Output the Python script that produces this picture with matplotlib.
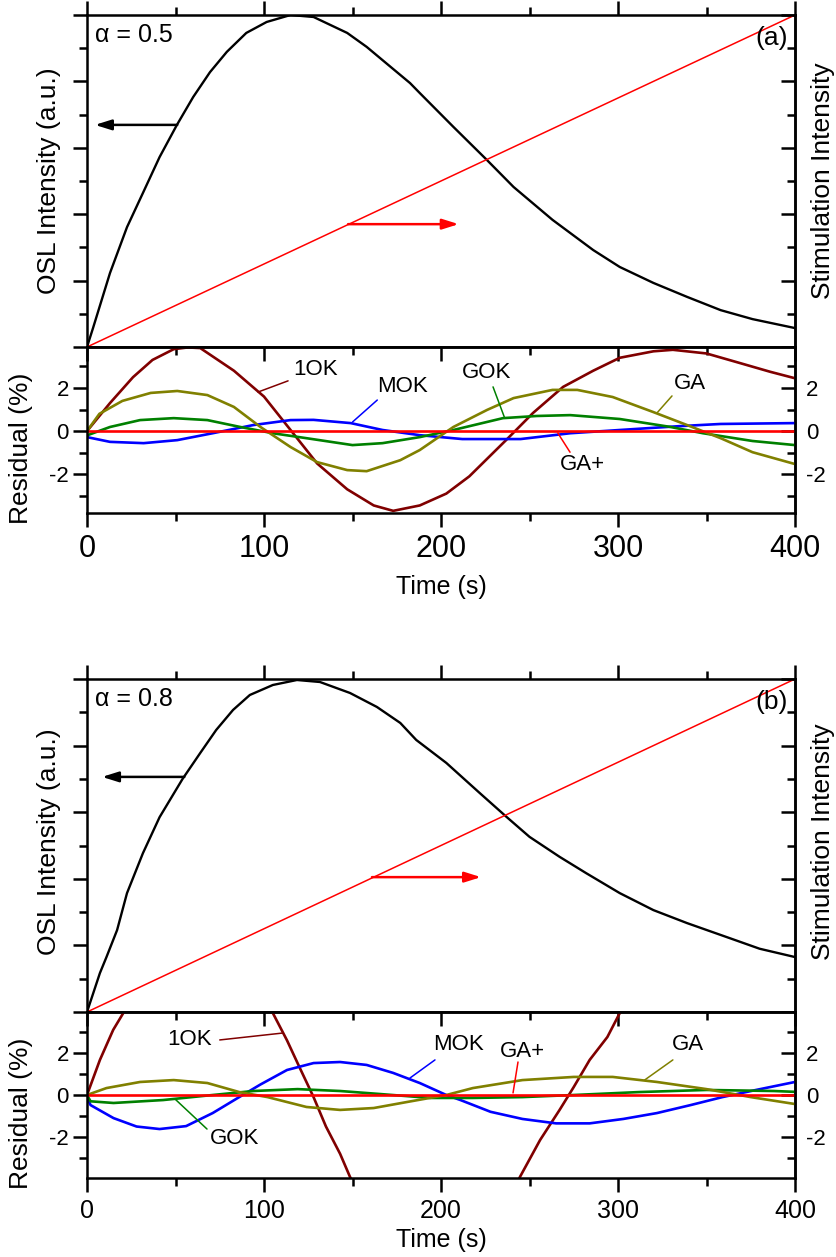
import numpy as np
import matplotlib
matplotlib.use("Agg")
import matplotlib.pyplot as plt
from matplotlib.ticker import MultipleLocator

plt.rcParams['font.family'] = ['Liberation Sans', 'DejaVu Sans']
plt.rcParams['axes.unicode_minus'] = False

# ---- panel (a), alpha = 0.5 ----
t_osl_a = [0, 3.4, 13, 22.6, 31.6, 41, 50.8, 60, 69.5, 79, 90, 101.5, 115, 128, 147, 158,
           169, 182.5, 188, 207, 226, 241, 263, 286, 301, 320, 339, 358, 376, 400]
osl_a = [0, 0.057, 0.223, 0.361, 0.464, 0.572, 0.669, 0.753, 0.828, 0.889, 0.946, 0.979, 1.0,
         0.994, 0.946, 0.904, 0.855, 0.795, 0.765, 0.663, 0.563, 0.482, 0.383, 0.292, 0.241,
         0.193, 0.151, 0.111, 0.084, 0.057]

t_1ok_a = [0, 13, 26, 37, 49, 57, 64, 83, 100, 115, 130, 147, 162, 173, 188, 203, 216, 237,
           252, 269, 286, 301, 320, 331, 350, 367, 386, 400]
r_1ok_a = [0, 1.3, 2.5, 3.3, 3.8, 3.88, 3.85, 2.8, 1.6, 0.05, -1.5, -2.7, -3.45, -3.7, -3.45,
           -2.9, -2.1, -0.4, 0.84, 2.05, 2.8, 3.4, 3.7, 3.77, 3.6, 3.2, 2.75, 2.45]
t_ga_a = [0, 7, 20, 36, 51, 68, 83, 98, 115, 130, 147, 158, 177, 188, 207, 226, 241, 263, 277,
          297, 320, 339, 358, 376, 400]
r_ga_a = [0, 0.8, 1.4, 1.77, 1.86, 1.67, 1.12, 0.19, -0.74, -1.44, -1.81, -1.86, -1.35, -0.88,
          0.19, 0.98, 1.53, 1.91, 1.91, 1.58, 0.88, 0.28, -0.33, -0.98, -1.53]
t_gok_a = [0, 13, 30, 49, 68, 86, 105, 124, 150, 167, 188, 207, 235, 254, 273, 301, 329, 348,
           376, 400]
r_gok_a = [-0.2, 0.19, 0.51, 0.6, 0.51, 0.2, -0.1, -0.33, -0.65, -0.56, -0.28, 0.05, 0.6, 0.7,
           0.74, 0.56, 0.2, -0.1, -0.46, -0.65]
t_mok_a = [0, 13, 32, 51, 71, 94, 115, 128, 149, 167, 188, 212, 245, 273, 301, 335, 358, 400]
r_mok_a = [-0.28, -0.5, -0.56, -0.42, -0.1, 0.28, 0.51, 0.52, 0.37, 0.05, -0.19, -0.37, -0.37,
           -0.1, 0.05, 0.23, 0.33, 0.37]
t_gap_a = [0, 400]
r_gap_a = [0, 0]

# ---- panel (b), alpha = 0.8 ----
t_osl_b = [0, 7.3, 11, 17, 22.6, 31.6, 41, 54, 64, 73, 82.5, 92, 105, 118.6, 131.6, 148.6,
           163.8, 177, 186, 203, 222, 237, 250, 267, 282, 301, 320, 339, 363, 380, 400]
osl_b = [0, 0.117, 0.165, 0.246, 0.357, 0.477, 0.585, 0.7, 0.778, 0.847, 0.907, 0.952, 0.982,
         0.997, 0.991, 0.958, 0.916, 0.868, 0.817, 0.748, 0.657, 0.586, 0.526, 0.466, 0.417,
         0.357, 0.306, 0.267, 0.222, 0.19, 0.165]

t_1ok_b = [0, 7.3, 14.8, 20.5, 40, 62, 85, 105, 113, 120, 128, 135, 143, 148.6, 170, 200, 230,
           244.6, 256, 267, 275, 284, 294, 301, 330, 360, 400]
r_1ok_b = [0, 1.67, 3.1, 3.9, 6.5, 7.8, 6.8, 3.9, 2.6, 1.33, -0.1, -1.5, -2.8, -3.9, -7.0, -8.5,
           -6.5, -3.9, -2.14, -0.71, 0.38, 1.67, 2.76, 3.9, 7.5, 9.0, 8.0]
t_ga_b = [0, 11, 30, 49, 68, 86, 102, 124, 143, 162, 181, 203, 218, 246, 275, 297, 322, 350,
          375, 400]
r_ga_b = [0, 0.33, 0.62, 0.71, 0.57, 0.14, -0.1, -0.57, -0.71, -0.62, -0.33, 0, 0.33, 0.71,
          0.86, 0.86, 0.62, 0.28, -0.1, -0.43]
t_gok_b = [0, 2, 15, 43, 71, 94, 119, 143, 165, 194, 218, 246, 275, 312, 350, 388, 400]
r_gok_b = [0, -0.3, -0.38, -0.24, 0, 0.19, 0.28, 0.19, 0.05, -0.14, -0.14, -0.1, 0, 0.14, 0.24,
           0.19, 0.15]
t_mok_b = [0, 2, 15, 28, 41, 56, 71, 85, 98, 113, 128, 143, 158, 173, 188, 203, 211, 228, 246,
           265, 284, 303, 322, 341, 359, 378, 400]
r_mok_b = [-0.1, -0.48, -1.1, -1.5, -1.62, -1.48, -0.86, -0.15, 0.5, 1.19, 1.52, 1.57, 1.43,
           1.05, 0.57, 0.0, -0.24, -0.8, -1.14, -1.35, -1.35, -1.14, -0.86, -0.48, -0.1, 0.24,
           0.62]
t_gap_b = [0, 400]
r_gap_b = [0, 0]

t_stim = [0, 400]
stim = [0, 1]

C_1OK = '#800000'
C_GA = '#808000'
C_GOK = '#008000'
C_MOK = '#0000ff'
C_GAP = '#ff0000'

W, H = 836, 1257
fig = plt.figure(figsize=(W / 100, H / 100), dpi=100)

LW_SP = 1.8


def px_axes(x0, y0, x1, y1):
    return fig.add_axes([x0 / W, 1 - y1 / H, (x1 - x0) / W, (y1 - y0) / H])


def fig_text(x, y, s, **kw):
    # x, y in pixels from top-left
    return fig.text(x / W, 1 - y / H, s, ha='center', va='center', **kw)


def style_spines(ax):
    for s in ax.spines.values():
        s.set_linewidth(LW_SP)


def main_panel(ax, t, osl, alpha_txt, tag, arrow_b, arrow_r, yc):
    ax.plot(t, osl, color='black', lw=1.7)
    ax.plot(t_stim, stim, color='red', lw=1.1)
    ax.set_xlim(0, 400)
    ax.set_ylim(0, 1)
    style_spines(ax)
    ax.xaxis.set_major_locator(MultipleLocator(100))
    ax.xaxis.set_minor_locator(MultipleLocator(50))
    ax.yaxis.set_major_locator(MultipleLocator(0.2))
    ax.yaxis.set_minor_locator(MultipleLocator(0.1))
    ax.tick_params(axis='x', which='both', bottom=False, top=True, labelbottom=False,
                   direction='out', width=LW_SP)
    ax.tick_params(axis='y', which='both', left=True, right=False, labelleft=False,
                   direction='out', width=LW_SP)
    ax.tick_params(which='major', length=10)
    ax.tick_params(which='minor', length=6)
    sec = ax.secondary_yaxis('right')
    sec.yaxis.set_major_locator(MultipleLocator(0.2))
    sec.yaxis.set_minor_locator(MultipleLocator(0.1))
    sec.tick_params(which='both', direction='in', labelright=False, width=LW_SP)
    sec.tick_params(which='major', length=10)
    sec.tick_params(which='minor', length=6)
    sec.spines['right'].set_linewidth(LW_SP)
    fig_text(49, yc, 'OSL Intensity (a.u.)', fontsize=19, rotation=90)
    fig_text(823, yc, 'Stimulation Intensity', fontsize=19, rotation=90)
    ax.text(0.011, 0.94, alpha_txt, transform=ax.transAxes, fontsize=18,
            ha='left', va='center')
    ax.text(0.99, 0.93, tag, transform=ax.transAxes, fontsize=19, ha='right', va='center')
    (bh, bt, bv) = arrow_b
    (rt, rh, rv) = arrow_r
    ax.annotate('', xy=(bh, bv), xytext=(bt, bv),
                arrowprops=dict(arrowstyle='-|>,head_length=0.7,head_width=0.22',
                                color='black', lw=1.8, shrinkA=0, shrinkB=0, mutation_scale=14))
    ax.annotate('', xy=(rh, rv), xytext=(rt, rv),
                arrowprops=dict(arrowstyle='-|>,head_length=0.7,head_width=0.22',
                                color='red', lw=1.8, shrinkA=0, shrinkB=0, mutation_scale=14))


def resid_panel(ax, series, labels, ylim, xtick_fs, ylab_y, xlab_y):
    for (t, r, c) in series:
        ax.plot(t, r, color=c, lw=1.9, solid_capstyle='butt')
    ax.set_xlim(0, 400)
    ax.set_ylim(*ylim)
    style_spines(ax)
    ax.xaxis.set_major_locator(MultipleLocator(100))
    ax.xaxis.set_minor_locator(MultipleLocator(50))
    ax.yaxis.set_major_locator(MultipleLocator(2))
    ax.yaxis.set_minor_locator(MultipleLocator(1))
    ax.tick_params(axis='x', which='both', bottom=True, top=False, direction='out',
                   width=LW_SP, labelsize=xtick_fs, pad=5)
    ax.tick_params(axis='y', which='both', left=True, right=False, direction='out',
                   width=LW_SP, labelsize=16, pad=3)
    ax.tick_params(which='major', length=10)
    ax.tick_params(which='minor', length=6)
    fig_text(21, ylab_y, 'Residual (%)', fontsize=19, rotation=90)
    fig_text(441, xlab_y, 'Time (s)', fontsize=18)
    secx = ax.secondary_xaxis('top')
    secx.xaxis.set_major_locator(MultipleLocator(100))
    secx.xaxis.set_minor_locator(MultipleLocator(50))
    secx.tick_params(which='both', direction='in', labeltop=False, width=LW_SP)
    secx.tick_params(which='major', length=10)
    secx.tick_params(which='minor', length=6)
    secx.spines['top'].set_linewidth(LW_SP)
    secy = ax.secondary_yaxis('right')
    secy.yaxis.set_major_locator(MultipleLocator(2))
    secy.yaxis.set_minor_locator(MultipleLocator(1))
    secy.tick_params(which='both', direction='in', labelsize=16, width=LW_SP, pad=8)
    secy.tick_params(which='major', length=10)
    secy.tick_params(which='minor', length=6)
    secy.spines['right'].set_linewidth(LW_SP)
    for (txt, pos, p0, p1, c) in labels:
        ax.text(pos[0], pos[1], txt, fontsize=16, ha='center', va='center')
        ax.annotate('', xy=p1, xytext=p0,
                    arrowprops=dict(arrowstyle='-', color=c, lw=1.1, shrinkA=0, shrinkB=0))


# panel (a)
ax_a = px_axes(87, 15, 795, 347)
main_panel(ax_a, t_osl_a, osl_a, 'α = 0.5', '(a)', (4.5, 51, 0.669), (147.5, 210, 0.37), 181)
res_a = px_axes(87, 347, 795, 513)
resid_panel(res_a,
            [(t_1ok_a, r_1ok_a, C_1OK), (t_mok_a, r_mok_a, C_MOK), (t_gok_a, r_gok_a, C_GOK),
             (t_ga_a, r_ga_a, C_GA), (t_gap_a, r_gap_a, C_GAP)],
            [('1OK', (129, 2.84), (113.6, 2.33), (96.6, 1.81), C_1OK),
             ('MOK', (178.5, 2.05), (164, 1.44), (150, 0.42), C_MOK),
             ('GOK', (226, 2.7), (229.4, 2.05), (236, 0.6), C_GOK),
             ('GA', (340.7, 2.23), (330.5, 1.63), (322, 0.84), C_GA),
             ('GA+', (280, -1.53), (272.9, -0.98), (266, -0.09), C_GAP)],
            (-3.8, 3.9), 22, 448, 587)

# panel (b)
ax_b = px_axes(87, 679, 795, 1012)
main_panel(ax_b, t_osl_b, osl_b, 'α = 0.8', '(b)', (8.5, 55, 0.706), (161, 222.6, 0.405), 842)
res_b = px_axes(87, 1012, 795, 1178)
resid_panel(res_b,
            [(t_1ok_b, r_1ok_b, C_1OK), (t_mok_b, r_mok_b, C_MOK), (t_gok_b, r_gok_b, C_GOK),
             (t_ga_b, r_ga_b, C_GA), (t_gap_b, r_gap_b, C_GAP)],
            [('1OK', (58.2, 2.62), (75, 2.62), (110.7, 2.95), C_1OK),
             ('GOK', (83.6, -2.05), (67.8, -1.62), (49.7, -0.19), C_GOK),
             ('MOK', (210, 2.38), (196.6, 1.67), (182.5, 0.81), C_MOK),
             ('GA+', (245.8, 2.05), (243.5, 1.57), (240.7, 0.1), C_GAP),
             ('GA', (339.5, 2.38), (331, 1.67), (315, 0.71), C_GA)],
            (-3.95, 3.95), 18, 1113, 1240)

fig.savefig('out.png', dpi=100)
